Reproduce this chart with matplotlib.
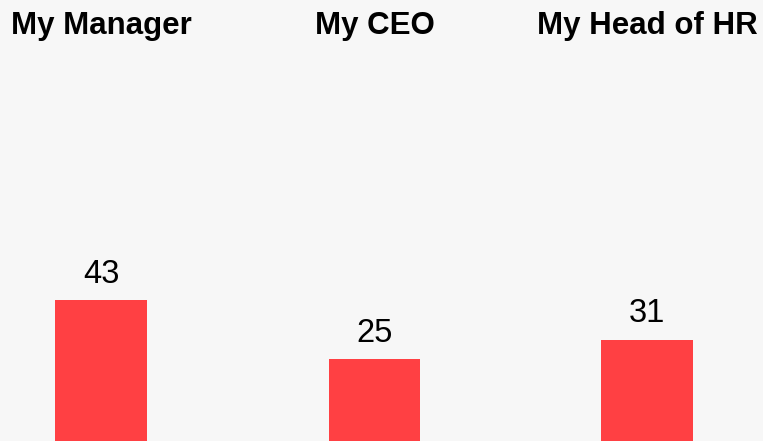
import matplotlib
matplotlib.use("Agg")
import matplotlib.pyplot as plt

plt.rcParams['font.family'] = ['Liberation Sans', 'DejaVu Sans']

categories = ["My Manager", "My CEO", "My Head of HR"]
values = [43, 25, 31]

bg = "#f7f7f7"
bar_color = "#ff4043"

W, H = 763, 441
fig = plt.figure(figsize=(W / 100, H / 100), dpi=100, facecolor=bg)

centers_px = [101, 374.5, 647]
panel_w = 273
axes_top_px = 60
px_per_unit = 3.27
ymax = (H - axes_top_px) / px_per_unit

for cat, val, cx in zip(categories, values, centers_px):
    left = (cx - panel_w / 2) / W
    ax = fig.add_axes([left, 0, panel_w / W, (H - axes_top_px) / H])
    ax.set_facecolor(bg)
    ax.patch.set_alpha(0)
    bars = ax.bar([0], [val], width=0.335, color=bar_color)
    ax.set_xlim(-0.5, 0.5)
    ax.set_ylim(0, ymax)
    ax.bar_label(bars, labels=[str(val)], padding=7.5, fontsize=23.5, color="black")
    ax.set_title(cat, fontsize=22.5, fontweight="bold", pad=19, color="black")
    for s in ax.spines.values():
        s.set_visible(False)
    ax.set_xticks([])
    ax.set_yticks([])

fig.savefig("out.png", dpi=100, facecolor=bg)
